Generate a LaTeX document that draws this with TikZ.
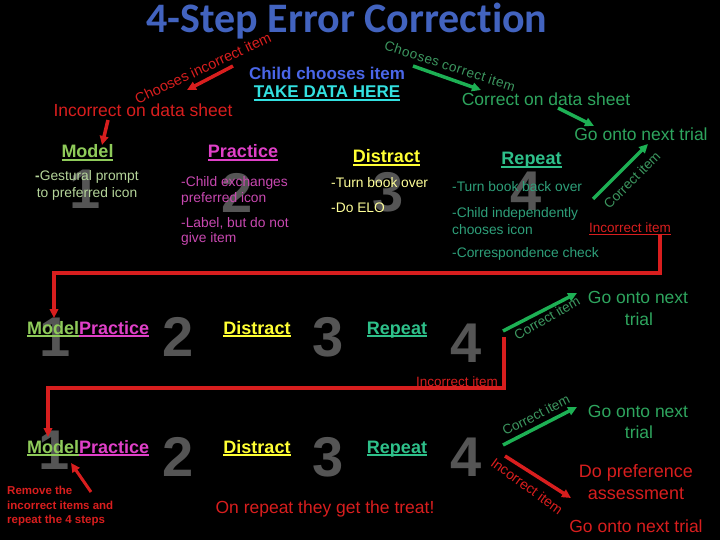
\documentclass[tikz,border=0pt]{standalone}
\usepackage{fontspec}
\setmainfont{Liberation Sans}
\newfontfamily\titlefont[Ligatures=NoCommon]{Carlito}
\usetikzlibrary{arrows.meta}
\definecolor{ctitle}{RGB}{66,99,191}
\definecolor{cchild}{RGB}{74,102,232}
\definecolor{ccyan}{RGB}{51,224,224}
\definecolor{cred}{RGB}{216,30,30}
\definecolor{cgtxt}{RGB}{46,165,94}
\definecolor{cgarr}{RGB}{29,176,84}
\definecolor{cgrot}{RGB}{60,150,95}
\definecolor{cmodel}{RGB}{143,203,90}
\definecolor{cmodelb}{RGB}{181,213,154}
\definecolor{cprac}{RGB}{224,64,200}
\definecolor{cpracb}{RGB}{200,72,176}
\definecolor{cdist}{RGB}{255,255,51}
\definecolor{cdistb}{RGB}{255,255,153}
\definecolor{crep}{RGB}{46,192,138}
\definecolor{crepb}{RGB}{46,160,122}
\definecolor{cnum}{RGB}{85,85,85}
\newcommand\fsz[1]{\fontsize{#1}{#1}\selectfont}
\newcommand\myul[1]{\setbox0\hbox{#1}\rlap{\copy0}\rule[-2.8pt]{\wd0}{1.5pt}}
\newcommand\thinul[1]{\setbox0\hbox{#1}\rlap{\copy0}\rule[-2.2pt]{\wd0}{0.9pt}}
\tikzset{
  lbl/.style={inner sep=0pt, anchor=base},
  hdr/.style={lbl, font=\fsz{18}\bfseries},
  body/.style={inner sep=0pt, anchor=base west, font=\fsz{13.8}},
  big/.style={lbl, font=\fsz{17.5}},
  num/.style={inner sep=0pt, anchor=center, text=cnum, font=\fsz{56}\bfseries},
  rot/.style={inner sep=0pt, anchor=center, font=\fsz{13.5}},
  arr/.style={line width=3.5pt, -{Triangle[length=9pt,width=8.5pt]}},
  redarr/.style={arr, draw=cred},
  grnarr/.style={arr, draw=cgarr},
  loopline/.style={line width=3.5pt, draw=cred, -{Triangle[length=9pt,width=8.5pt]}}
}
\begin{document}
\begin{tikzpicture}[x=1pt,y=-1pt]
\fill[black] (0,0) rectangle (720,540);
\useasboundingbox (0,0) rectangle (720,540);

% big gray step numbers (behind text)
\node[num] (n11) at (85,189) {1};
\node[num] (n12) at (237,193) {2};
\node[num] (n13) at (388,192) {3};
\node[num] (n14) at (526,191) {4};
\node[num] (n21) at (55,337) {1};
\node[num] (n22) at (178,337) {2};
\node[num] (n23) at (328,337) {3};
\node[num] (n24) at (466,343) {4};
\node[num] (n31) at (54,450) {1};
\node[num] (n32) at (178,457) {2};
\node[num] (n33) at (328,457) {3};
\node[num] (n34) at (466,457) {4};

% title
\node[lbl, text=ctitle, font=\titlefont\bfseries\fsz{42}] (title) at (347,33) {4-Step Error Correction};

% top section
\node[lbl, text=cchild, font=\fsz{17}\bfseries] (child) at (327,80) {Child chooses item};
\node[lbl, text=ccyan, font=\fsz{17}\bfseries] (take) at (327,98) {\myul{TAKE DATA HERE}};
\node[rot, text=cred, rotate=25, font=\fsz{14.5}] (chinc) at (203,68) {Chooses incorrect item};
\node[rot, text=cgrot, rotate=-18, font=\fsz{13.5}] (chcor) at (450,66) {C\kern.6pt h\kern.6pt o\kern.6pt o\kern.6pt s\kern.6pt e\kern.6pt s c\kern.6pt o\kern.6pt r\kern.6pt r\kern.6pt e\kern.6pt c\kern.6pt t i\kern.6pt t\kern.6pt e\kern.6pt m};
\node[big, text=cred] (incds) at (143,117) {Incorrect on data sheet};
\node[big, text=cgtxt] (cords) at (546,106) {Correct on data sheet};
\node[big, text=cgtxt] (gonext1) at (641,141) {Go onto next trial};

\coordinate (ta1) at (233,66); \coordinate (ta2) at (187,90);
\draw[redarr] (ta1) -- (ta2);
\coordinate (tb1) at (108,120); \coordinate (tb2) at (102,145);
\draw[redarr] (tb1) -- (tb2);
\coordinate (tc1) at (413,66); \coordinate (tc2) at (481,90);
\draw[grnarr] (tc1) -- (tc2);
\coordinate (td1) at (558,108); \coordinate (td2) at (594,126);
\draw[grnarr] (td1) -- (td2);

% row 1 headers
\node[hdr, text=cmodel] (h1) at (87.5,158) {\myul{Model}};
\node[hdr, text=cprac] (h2) at (243,158) {\myul{Practice}};
\node[hdr, text=cdist] (h3) at (386.5,163) {\myul{Distract}};
\node[hdr, text=crep] (h4) at (531.5,165) {\myul{Repeat}};

% row 1 body
\node[lbl, text=cmodelb, font=\fsz{13.8}] (m1) at (87,181) {\textbf{-}Gestural prompt};
\node[lbl, text=cmodelb, font=\fsz{13.8}] (m2) at (87,198) {to preferred icon};
\node[body, text=cpracb] (p1) at (181,187) {-Child exchanges};
\node[body, text=cpracb] (p2) at (181,203) {preferred icon};
\node[body, text=cpracb] (p3) at (181,228) {-Label, but do not};
\node[body, text=cpracb] (p4) at (181,243) {give item};
\node[body, text=cdistb] (d1) at (331,188) {-Turn book over};
\node[body, text=cdistb] (d2) at (331,213) {-Do ELO};
\node[body, text=crepb] (r1) at (452,192) {-Turn book back over};
\node[body, text=crepb] (r2) at (452,218) {-Child independently};
\node[body, text=crepb] (r3) at (452,234) {chooses icon};
\node[body, text=crepb] (r4) at (452,258) {-Correspondence check};

% row 1 outcomes
\coordinate (g1a) at (593,199); \coordinate (g1b) at (648,144);
\draw[grnarr] (g1a) -- (g1b);
\node[rot, text=cgrot, rotate=45] (ci1) at (632,180) {Correct item};
\node[lbl, text=cred, font=\fsz{13.5}] (ii1) at (630,233) {\thinul{Incorrect item}};
\coordinate (l1a) at (660,234); \coordinate (l1b) at (660,273);
\coordinate (l1c) at (54,273); \coordinate (l1d) at (54,318);
\draw[loopline] (l1a) -- (l1b) -- (l1c) -- (l1d);

% row 2
\node[lbl, anchor=base west, font=\fsz{18}\bfseries] (mp2) at (27,334) {{\color{cmodel}\myul{Model}}{\color{cprac}\myul{Practice}}};
\node[hdr, text=cdist] (d2h) at (257,334) {\myul{Distract}};
\node[hdr, text=crep] (r2h) at (397,334) {\myul{Repeat}};
\coordinate (g2a) at (503,331); \coordinate (g2b) at (577,293);
\draw[grnarr] (g2a) -- (g2b);
\node[rot, text=cgrot, rotate=30] (ci2) at (547,318) {Correct item};
\node[big, text=cgtxt] (gn2a) at (638,303) {Go onto next};
\node[big, text=cgtxt] (gn2b) at (639,325) {trial};
\node[lbl, text=cred, font=\fsz{13.5}] (ii2) at (457,386) {Incorrect item};
\coordinate (l2a) at (504,337); \coordinate (l2b) at (504,388);
\coordinate (l2c) at (48,388); \coordinate (l2d) at (48,437);
\draw[loopline] (l2a) -- (l2b) -- (l2c) -- (l2d);

% row 3
\node[lbl, anchor=base west, font=\fsz{18}\bfseries] (mp3) at (27,453) {{\color{cmodel}\myul{Model}}{\color{cprac}\myul{Practice}}};
\node[hdr, text=cdist] (d3h) at (257,453) {\myul{Distract}};
\node[hdr, text=crep] (r3h) at (397,453) {\myul{Repeat}};
\coordinate (g3a) at (503,445); \coordinate (g3b) at (577,407);
\draw[grnarr] (g3a) -- (g3b);
\node[rot, text=cgrot, rotate=27] (ci3) at (536,415) {Correct item};
\coordinate (r3a) at (505,456); \coordinate (r3b) at (571,498);
\draw[redarr] (r3a) -- (r3b);
\node[rot, text=cred, rotate=-36, font=\fsz{14}] (ii3) at (527,486) {Incorrect item};
\node[big, text=cgtxt] (gn3a) at (638,417) {Go onto next};
\node[big, text=cgtxt] (gn3b) at (639,438) {trial};
\node[lbl, text=cred, font=\fsz{18}] (dp1) at (636,477) {Do preference};
\node[lbl, text=cred, font=\fsz{18}] (dp2) at (636,499) {assessment};
\node[big, text=cred] (gn3c) at (636,532) {Go onto next trial};
\node[big, text=cred] (treat) at (325,513) {On repeat they get the treat!};

\node[inner sep=0pt, anchor=base west, text=cred, font=\fsz{11.5}\bfseries] (rm1) at (7,494) {Remove the};
\node[inner sep=0pt, anchor=base west, text=cred, font=\fsz{11.5}\bfseries] (rm2) at (7,509) {incorrect items and};
\node[inner sep=0pt, anchor=base west, text=cred, font=\fsz{11.5}\bfseries] (rm3) at (7,523) {repeat the 4 steps};
\coordinate (rma) at (91,492); \coordinate (rmb) at (71,463);
\draw[redarr, line width=3pt] (rma) -- (rmb);
\end{tikzpicture}
\end{document}
